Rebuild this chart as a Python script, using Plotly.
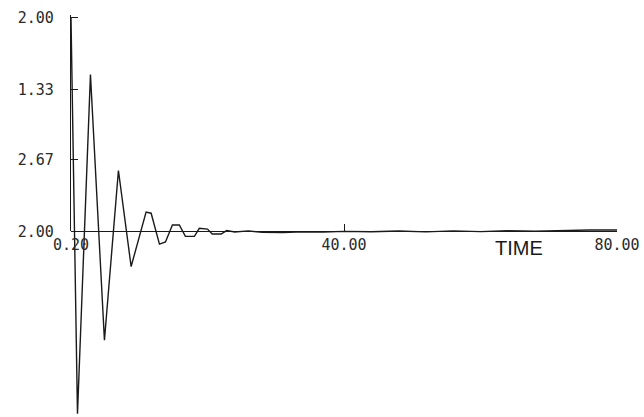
import plotly.graph_objects as go

# ---- data (damped response vs time) ----
time = [0, 0.95, 2.85, 4.9, 6.95, 8.81, 11.0, 11.74, 12.96, 13.84, 14.86, 15.87,
        16.76, 18.08, 18.8, 20.0, 20.7, 22.0, 22.8, 24, 26, 28, 31, 34, 37, 40,
        44, 48, 52, 56, 60, 64, 68, 72, 76, 80]
response = [2.0, -1.71, 1.47, -1.02, 0.57, -0.33, 0.18, 0.17, -0.12, -0.10, 0.06, 0.06,
            -0.047, -0.047, 0.028, 0.021, -0.025, -0.025, 0.007, -0.006, 0.004, -0.01,
            -0.012, -0.004, -0.006, 0.0, -0.004, 0.003, -0.005, 0.004, -0.003, 0.005,
            0.002, 0.008, 0.012, 0.012]

x_tickvals = [0, 40, 80]
x_ticktext = ["0.20", "40.00", "80.00"]
y_tickvals = [0, 0.67, 1.33, 2.0]
y_ticktext = ["2.00", "2.67", "1.33", "2.00"]
x_title = "TIME"

# ---- layout geometry ----
W, H = 644, 417
mt, mb = 5, 0
plot_h = 412
px_per_unit = 107.5
ymax = (233 - mt) / px_per_unit
ymin = ymax - plot_h / px_per_unit
y2_top = 2.03
p0 = (0 - ymin) / (ymax - ymin)
p1 = (y2_top - ymin) / (ymax - ymin)

ink = "#1a1a1a"
tick_font = dict(family="DejaVu Sans Mono", size=15, color="#2a2a2a")

fig = go.Figure()
fig.add_trace(go.Scatter(x=[None], y=[None], yaxis="y2", mode="lines",
                         showlegend=False, hoverinfo="skip"))
fig.add_trace(go.Scatter(x=time, y=response, mode="lines",
                         line=dict(color=ink, width=1.4), showlegend=False,
                         hoverinfo="skip"))

fig.update_layout(
    width=W, height=H + 6,
    margin=dict(l=71, r=27, t=mt, b=mb),
    paper_bgcolor="white", plot_bgcolor="rgba(0,0,0,0)",
    showlegend=False,
    xaxis=dict(range=[0, 80], anchor="free", position=p0,
               showline=True, linecolor=ink, linewidth=1.2,
               ticks="inside", ticklen=7, tickcolor=ink, tickwidth=1.2,
               tickvals=x_tickvals, ticktext=x_ticktext, tickfont=tick_font,
               showgrid=False, zeroline=False),
    yaxis=dict(range=[ymin, ymax], domain=[0, 1], visible=False,
               showgrid=False, zeroline=False),
    yaxis2=dict(range=[0, y2_top], domain=[p0, p1], anchor="x", side="left",
                showline=True, linecolor=ink, linewidth=1.2,
                ticks="inside", ticklen=7, tickcolor=ink, tickwidth=1.2,
                tickvals=y_tickvals, ticktext=y_ticktext, tickfont=tick_font,
                ticklabelstandoff=13,
                showgrid=False, zeroline=False),
    annotations=[dict(text=x_title, x=65.6, y=0, xref="x", yref="y",
                      xanchor="center", yanchor="top", yshift=-4, showarrow=False,
                      font=dict(family="Liberation Sans", size=20, color=ink))],
)

post = (
    "document.documentElement.style.margin='0';"
    "document.documentElement.style.overflow='hidden';"
    "document.body.style.margin='0';"
    "document.body.style.overflow='hidden';"
)
fig.write_html("out.html", config={"displayModeBar": False}, post_script=post)
